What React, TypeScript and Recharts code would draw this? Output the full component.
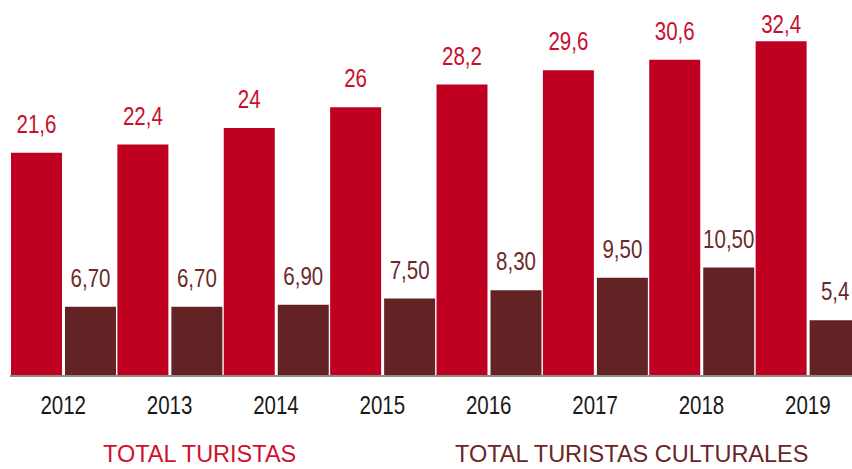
import React from 'react';
import { Bar, BarChart, LabelList, XAxis, YAxis } from 'recharts';

const years = ['2012', '2013', '2014', '2015', '2016', '2017', '2018', '2019'];
const totalTuristas = [21.6, 22.4, 24, 26, 28.2, 29.6, 30.6, 32.4];
const turistasCulturales = [6.7, 6.7, 6.9, 7.5, 8.3, 9.5, 10.5, 5.4];
const totalLabels = ['21,6', '22,4', '24', '26', '28,2', '29,6', '30,6', '32,4'];
const culturalLabels = ['6,70', '6,70', '6,90', '7,50', '8,30', '9,50', '10,50', '5,4'];

const RED = '#C00020';
const BROWN = '#632324';
const FONT = '"Liberation Sans", Arial, sans-serif';
// narrow look: squeeze Liberation Sans horizontally
const SQUEEZE = 0.82;

const data = years.map((year, i) => ({
  year,
  total: totalTuristas[i],
  cultural: turistasCulturales[i],
  totalLabel: totalLabels[i],
  culturalLabel: culturalLabels[i],
}));

const YearTick = (props: any) => {
  const { x, y, payload } = props;
  return (
    <text
      transform={`translate(${x},${y}) scale(${SQUEEZE},1)`}
      textAnchor="middle"
      dy="0.71em"
      fill="#1a1a1a"
      fontSize={25}
      fontFamily={FONT}
    >
      {payload.value}
    </text>
  );
};

const makeLabel = (color: string) => (props: any) => {
  const { x, y, width, value } = props;
  // keep the label inside the top of the picture
  const base = Math.max(Number(y) - 20, 33);
  return (
    <text
      transform={`translate(${Number(x) + Number(width) / 2},${base}) scale(${SQUEEZE},1)`}
      textAnchor="middle"
      fill={color}
      fontSize={25}
      fontFamily={FONT}
    >
      {value}
    </text>
  );
};

export default function App() {
  return (
    <div style={{ position: 'absolute', left: 0, top: 0, width: 852, height: 469, background: '#fff', fontFamily: FONT }}>
      <BarChart
        width={852}
        height={469}
        data={data}
        margin={{ top: 4, right: -9, bottom: 33, left: 10 }}
        barCategoryGap={1}
        barGap={3}
      >
        <YAxis hide domain={[0, 36]} />
        <XAxis
          dataKey="year"
          height={60}
          tickLine={false}
          tickSize={0}
          tickMargin={20}
          axisLine={{ stroke: '#8c8c8c', strokeWidth: 2 }}
          tick={<YearTick />}
        />
        <Bar dataKey="total" fill={RED} isAnimationActive={false}>
          <LabelList dataKey="totalLabel" content={makeLabel('#C8102E')} />
        </Bar>
        <Bar dataKey="cultural" fill={BROWN} isAnimationActive={false}>
          <LabelList dataKey="culturalLabel" content={makeLabel('#6B2A2A')} />
        </Bar>
      </BarChart>
      <div style={{ position: 'absolute', left: 103, top: 443, fontSize: 23.5, lineHeight: 1, color: '#D0102E', whiteSpace: 'nowrap' }}>
        TOTAL TURISTAS
      </div>
      <div style={{ position: 'absolute', left: 455, top: 443, fontSize: 23.5, lineHeight: 1, color: '#6B2527', whiteSpace: 'nowrap' }}>
        TOTAL TURISTAS CULTURALES
      </div>
    </div>
  );
}
